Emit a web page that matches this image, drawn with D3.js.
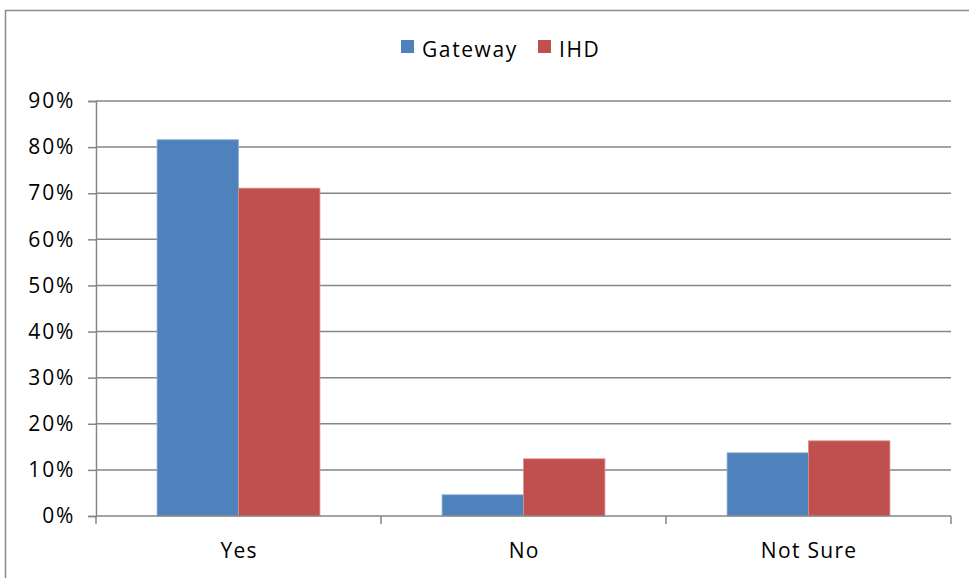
<!DOCTYPE html>
<html>
<head>
<meta charset="utf-8">
<script src="https://cdn.jsdelivr.net/npm/d3@7/dist/d3.min.js"></script>
<style>
  html, body { margin: 0; padding: 0; background: #fff; }
  svg { display: block; font-family: "Open Sans", "Liberation Sans", sans-serif; }
</style>
</head>
<body>
<svg id="chart" width="969" height="578"></svg>
<script>
// Survey responses by device type
const categories = ["Yes", "No", "Not Sure"];
const seriesNames = ["Gateway", "IHD"];
const gatewayValues = [0.816, 0.046, 0.137];
const ihdValues = [0.711, 0.124, 0.163];
const yTicks = [0, 0.1, 0.2, 0.3, 0.4, 0.5, 0.6, 0.7, 0.8, 0.9];
const colors = ["#4F81BD", "#C0504D"];

const svg = d3.select("#chart");
const margin = { left: 96, right: 951, top: 101, bottom: 516 };
const fontSize = 21;
const spacing = 1.3;

// Chart area frame
svg.append("rect")
  .attr("x", 5.5).attr("y", 10.5)
  .attr("width", 990).attr("height", 600)
  .attr("fill", "none")
  .attr("stroke", "#8c8c8c")
  .attr("stroke-width", 1.5);

const x0 = d3.scaleBand().domain(categories).range([margin.left, margin.right]).paddingInner(0).paddingOuter(0);
const x1 = d3.scaleBand().domain(seriesNames)
  .range([0, x0.bandwidth()])
  .paddingInner(0)
  .paddingOuter(0.75);
const y = d3.scaleLinear().domain([0, 0.9]).range([margin.bottom, margin.top]);

// Horizontal gridlines
svg.append("g")
  .selectAll("line")
  .data(yTicks.slice(1))
  .join("line")
  .attr("x1", margin.left).attr("x2", margin.right)
  .attr("y1", d => y(d)).attr("y2", d => y(d))
  .attr("stroke", "#868686").attr("stroke-width", 1.5);

// Y axis
const yAxis = svg.append("g")
  .attr("transform", `translate(${margin.left},0)`)
  .call(d3.axisLeft(y).tickValues(yTicks).tickFormat(d3.format(".0%")).tickSizeOuter(0).tickSize(8).tickPadding(14 - spacing));
yAxis.select(".domain").attr("stroke", "#868686").attr("stroke-width", 1.5);
yAxis.selectAll(".tick line").attr("stroke", "#868686").attr("stroke-width", 1.5);
yAxis.selectAll(".tick text")
  .attr("font-size", fontSize)
  .attr("letter-spacing", spacing + 0.6)
  .attr("fill", "#000")
  .attr("font-family", "'Open Sans', 'Liberation Sans', sans-serif");

// Bars
const series = [gatewayValues, ihdValues];
const groups = svg.append("g")
  .selectAll("g")
  .data(categories)
  .join("g")
  .attr("transform", d => `translate(${x0(d)},0)`);
groups.selectAll("rect")
  .data((c, i) => seriesNames.map((s, j) => ({ s, v: series[j][i], j })))
  .join("rect")
  .attr("x", d => x1(d.s))
  .attr("width", x1.bandwidth())
  .attr("y", d => y(d.v))
  .attr("height", d => y(0) - y(d.v))
  .attr("fill", d => colors[d.j])
  .attr("stroke", d => d.j === 0 ? "#8fb0d8" : "#dc8f8d")
  .attr("stroke-width", 0.8);

// X axis
const xAxisLine = svg.append("g");
xAxisLine.append("line")
  .attr("x1", margin.left).attr("x2", margin.right)
  .attr("y1", y(0)).attr("y2", y(0))
  .attr("stroke", "#868686").attr("stroke-width", 1.5);
const boundaries = categories.map(c => x0(c)).concat([margin.right]);
xAxisLine.selectAll("line.tick")
  .data(boundaries)
  .join("line")
  .attr("class", "tick")
  .attr("x1", d => d).attr("x2", d => d)
  .attr("y1", y(0)).attr("y2", y(0) + 8)
  .attr("stroke", "#868686").attr("stroke-width", 1.5);
svg.append("g")
  .selectAll("text")
  .data(categories)
  .join("text")
  .attr("x", d => x0(d) + x0.bandwidth() / 2 + spacing / 2)
  .attr("y", 558)
  .attr("text-anchor", "middle")
  .attr("font-size", fontSize)
  .attr("letter-spacing", spacing)
  .attr("fill", "#000")
  .text(d => d);

// Legend
const legend = svg.append("g");
const legendX = [401, 538];
seriesNames.forEach((name, i) => {
  legend.append("rect")
    .attr("x", legendX[i]).attr("y", 40)
    .attr("width", 13).attr("height", 13)
    .attr("fill", colors[i]);
  legend.append("text")
    .attr("x", legendX[i] + 21).attr("y", 57)
    .attr("font-size", fontSize)
    .attr("letter-spacing", 1.6)
    .attr("fill", "#000")
    .text(name);
});
</script>
</body>
</html>
